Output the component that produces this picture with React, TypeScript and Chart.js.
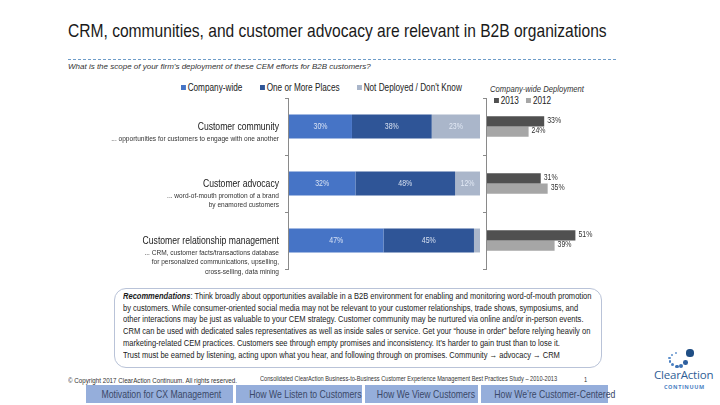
import React, { useEffect, useRef } from "react";
import { Chart, registerables } from "chart.js";

Chart.register(...registerables);

// ---------- DATA ----------
const categories = ["Customer community", "Customer advocacy", "Customer relationship management"];
const categoryNotes = [
  ["... opportunities for customers to engage with one another"],
  ["... word-of-mouth promotion of a brand", "by enamored customers"],
  ["... CRM, customer facts/transactions database", "for personalized communications, upselling,", "cross-selling, data mining"],
];
const scopeLabels = ["Company-wide", "One or More Places", "Not Deployed / Don't Know"];
const companyWide = [30, 32, 47];
const oneOrMorePlaces = [38, 48, 45];
const notDeployed = [23, 12, 3];
const yearLabels = ["2013", "2012"];
const companyWide2013 = [33, 31, 51];
const companyWide2012 = [24, 35, 39];

const scopeColors = ["#4674C6", "#2F5597", "#AAB6CA"];
const yearColors = ["#505050", "#A6A6A6"];

const FONT = "'Liberation Sans', Arial, sans-serif";
const SX = 0.82; // horizontal condensing to mimic Arial Narrow

const recLines = [
  "Think broadly about opportunities available in a B2B environment for enabling and monitoring word-of-mouth promotion",
  "by customers.  While consumer-oriented social media may not be relevant to your customer relationships, trade shows, symposiums, and",
  "other interactions may be just as valuable to your CEM strategy. Customer community may be nurtured via online and/or in-person events.",
  "CRM can be used with dedicated sales representatives as well as inside sales or service. Get your \u201Chouse in order\u201D before relying heavily on",
  "marketing-related CEM practices.  Customers see through empty promises and inconsistency.  It\u2019s harder to gain trust than to lose it.",
  "Trust must be earned by listening, acting upon what you hear, and following through on promises. Community \u2192 advocacy \u2192 CRM",
];
const tabs = ["Motivation for CX Management", "How We Listen to Customers", "How We View Customers", "How We\u2019re Customer-Centered"];

// ---------- helpers ----------
function bandEdges(chart: any) {
  const y = chart.scales.y;
  const { top, bottom } = chart.chartArea;
  const n = chart.data.labels.length;
  const edges = [top];
  for (let i = 0; i < n - 1; i++) {
    edges.push((y.getPixelForValue(i) + y.getPixelForValue(i + 1)) / 2);
  }
  edges.push(bottom);
  return edges;
}

function squeezeText(ctx: CanvasRenderingContext2D, text: string, x: number, y: number, sx: number) {
  ctx.save();
  ctx.translate(x, y);
  ctx.scale(sx, 1);
  ctx.fillText(text, 0, 0);
  ctx.restore();
}

const axisPlugin = {
  id: "catAxis",
  afterDatasetsDraw(chart: any) {
    const ctx = chart.ctx;
    const { left, top, bottom } = chart.chartArea;
    ctx.save();
    ctx.strokeStyle = "#8A8A8A";
    ctx.lineWidth = 1;
    ctx.beginPath();
    ctx.moveTo(Math.round(left) - 0.5, top);
    ctx.lineTo(Math.round(left) - 0.5, bottom);
    for (const e of bandEdges(chart)) {
      ctx.moveTo(Math.round(left) - 4, Math.round(e) + 0.5);
      ctx.lineTo(Math.round(left), Math.round(e) + 0.5);
    }
    ctx.stroke();
    ctx.restore();
  },
};

const leftLabelsPlugin = {
  id: "leftLabels",
  afterDraw(chart: any) {
    const ctx = chart.ctx;
    const y = chart.scales.y;
    const x = chart.chartArea.left - 10;
    ctx.save();
    ctx.textAlign = "right";
    ctx.textBaseline = "middle";
    categories.forEach((c, i) => {
      const cy = y.getPixelForValue(i);
      ctx.fillStyle = "#1a1a1a";
      ctx.font = `10.5px ${FONT}`;
      squeezeText(ctx, c, x, cy + 0.5, SX);
      ctx.fillStyle = "#333333";
      ctx.font = `8px ${FONT}`;
      categoryNotes[i].forEach((line, j) => {
        squeezeText(ctx, line, x, cy + 12 + j * 9.5, SX);
      });
    });
    ctx.restore();
  },
};

const stackLabelsPlugin = {
  id: "stackLabels",
  afterDatasetsDraw(chart: any) {
    const ctx = chart.ctx;
    ctx.save();
    ctx.font = `8.5px ${FONT}`;
    ctx.textAlign = "center";
    ctx.textBaseline = "middle";
    ctx.fillStyle = "rgba(232,238,250,0.9)";
    chart.data.datasets.forEach((ds: any, di: number) => {
      const meta = chart.getDatasetMeta(di);
      meta.data.forEach((el: any, i: number) => {
        const raw = ds.rawValues[i];
        if (raw < 5) return;
        squeezeText(ctx, raw + "%", (el.x + el.base) / 2, el.y + 0.5, SX);
      });
    });
    ctx.restore();
  },
};

const endLabelsPlugin = {
  id: "endLabels",
  afterDatasetsDraw(chart: any) {
    const ctx = chart.ctx;
    ctx.save();
    ctx.font = `8.5px ${FONT}`;
    ctx.textAlign = "left";
    ctx.textBaseline = "middle";
    ctx.fillStyle = "#333333";
    chart.data.datasets.forEach((ds: any, di: number) => {
      const meta = chart.getDatasetMeta(di);
      meta.data.forEach((el: any, i: number) => {
        squeezeText(ctx, ds.data[i] + "%", el.x + 3, el.y - 1, SX);
      });
    });
    ctx.restore();
  },
};

function ScopeChart() {
  const ref = useRef<HTMLCanvasElement>(null);
  useEffect(() => {
    const totals = companyWide.map((v, i) => v + oneOrMorePlaces[i] + notDeployed[i]);
    const series = [companyWide, oneOrMorePlaces, notDeployed];
    const chart = new Chart(ref.current as HTMLCanvasElement, {
      type: "bar",
      data: {
        labels: categories,
        datasets: series.map((s, k) => ({
          label: scopeLabels[k],
          data: s.map((v, i) => (v / totals[i]) * 100),
          rawValues: s,
          backgroundColor: scopeColors[k],
          borderWidth: 0,
          barPercentage: 0.42,
          categoryPercentage: 1,
        })) as any,
      },
      options: {
        indexAxis: "y",
        responsive: false,
        animation: false,
        layout: { padding: { left: 289, right: 10, top: 8, bottom: 11 } },
        plugins: { legend: { display: false }, tooltip: { enabled: false } },
        scales: {
          x: { stacked: true, min: 0, max: 100, display: false },
          y: { stacked: true, display: false },
        },
      },
      plugins: [axisPlugin, leftLabelsPlugin, stackLabelsPlugin],
    });
    return () => chart.destroy();
  }, []);
  return <canvas ref={ref} width={490} height={190} style={{ position: "absolute", left: 0, top: 90 }} />;
}

function YearChart() {
  const ref = useRef<HTMLCanvasElement>(null);
  useEffect(() => {
    const series = [companyWide2013, companyWide2012];
    const chart = new Chart(ref.current as HTMLCanvasElement, {
      type: "bar",
      data: {
        labels: categories,
        datasets: series.map((s, k) => ({
          label: yearLabels[k],
          data: s,
          backgroundColor: yearColors[k],
          borderWidth: 0,
          barPercentage: 1,
          categoryPercentage: 0.36,
        })),
      },
      options: {
        indexAxis: "y",
        responsive: false,
        animation: false,
        layout: { padding: { left: 7, right: 29, top: 8, bottom: 11 } },
        plugins: { legend: { display: false }, tooltip: { enabled: false } },
        scales: {
          x: { min: 0, max: 60, display: false },
          y: { display: false },
        },
      },
      plugins: [axisPlugin, endLabelsPlugin],
    });
    return () => chart.destroy();
  }, []);
  return <canvas ref={ref} width={140} height={190} style={{ position: "absolute", left: 480, top: 90 }} />;
}

function T({
  x,
  y,
  size,
  sx = SX,
  style = {},
  children,
}: {
  x: number;
  y: number;
  size: number;
  sx?: number;
  style?: React.CSSProperties;
  children: React.ReactNode;
}) {
  return (
    <div
      style={{
        position: "absolute",
        left: x,
        top: y,
        whiteSpace: "nowrap",
        fontFamily: FONT,
        fontSize: size,
        lineHeight: 1,
        transform: `scaleX(${sx})`,
        transformOrigin: "0 0",
        ...style,
      }}
    >
      {children}
    </div>
  );
}

function Swatch({ color, size = 5 }: { color: string; size?: number }) {
  return (
    <span
      style={{
        display: "inline-block",
        width: size / SX,
        height: size,
        background: color,
        marginRight: 2,
        verticalAlign: "middle",
        position: "relative",
        top: -1,
      }}
    />
  );
}

const logoDots: [number, number, number, string][] = [
  [672, 354.5, 1.0, "#5C8FCB"],
  [669.5, 358, 1.2, "#5C8FCB"],
  [670, 361.8, 1.4, "#4A80C2"],
  [672.8, 364.8, 1.6, "#4A80C2"],
  [676.8, 366.3, 1.8, "#3B71B4"],
  [681.3, 365.5, 2.0, "#3B71B4"],
  [685.3, 362.5, 2.3, "#2E5F9E"],
  [676, 353, 0.9, "#6C9AD2"],
  [690, 353, 3.6, "#1F4E84"],
];

export default function App() {
  const tabLefts = [86, 236, 365, 481];
  const tabWidths = [147, 126, 113, 127];
  return (
    <div style={{ position: "absolute", left: 0, top: 0, width: 720, height: 405, background: "#fff", overflow: "hidden" }}>
      <T x={68} y={21} size={19} style={{ color: "#1a1a1a" }}>
        CRM, communities, and customer advocacy are relevant in B2B organizations
      </T>
      <div style={{ position: "absolute", left: 68, top: 59, width: 548, borderTop: "1px dashed #6E9CC8" }} />
      <T x={68} y={63} size={8} sx={1} style={{ fontStyle: "italic", color: "#333" }}>
        What is the scope of your firm’s deployment of these CEM efforts for B2B customers?
      </T>

      {/* left legend */}
      {[181, 260, 357].map((lx, k) => (
        <T key={k} x={lx} y={83} size={10} style={{ color: "#222" }}>
          <Swatch color={scopeColors[k]} />
          {scopeLabels[k]}
        </T>
      ))}

      {/* right legend */}
      <T x={490} y={85} size={8.5} sx={0.9} style={{ fontStyle: "italic", color: "#333" }}>
        Company-wide Deployment
      </T>
      <T x={494} y={96} size={10} style={{ color: "#222" }}>
        <Swatch color={yearColors[0]} />
        {yearLabels[0]}
        <span style={{ display: "inline-block", width: 9 }} />
        <Swatch color={yearColors[1]} />
        {yearLabels[1]}
      </T>

      <ScopeChart />
      <YearChart />

      {/* recommendations */}
      <div
        style={{
          position: "absolute",
          left: 114,
          top: 288,
          width: 488,
          height: 80,
          border: "1px solid #B9C3D8",
          borderRadius: 12,
          boxSizing: "border-box",
        }}
      />
      <T x={123} y={291} size={9.2} style={{ color: "#1a1a1a", lineHeight: "11.7px" }}>
        <b>
          <i>Recommendations</i>
        </b>
        : {recLines[0]}
        {recLines.slice(1).map((l, i) => (
          <div key={i}>{l}</div>
        ))}
      </T>

      {/* footer */}
      <T x={68} y={377} size={7.6} style={{ color: "#333" }}>
        © Copyright 2017 ClearAction Continuum. All rights reserved.
      </T>
      <T x={260} y={376} size={6.9} style={{ color: "#333" }}>
        Consolidated ClearAction Business-to-Business Customer Experience Management Best Practices Study – 2010-2013
      </T>
      <T x={584} y={376} size={7} style={{ color: "#333" }}>
        1
      </T>
      {tabs.map((t, i) => (
        <div
          key={i}
          style={{
            position: "absolute",
            left: tabLefts[i],
            top: 385,
            width: tabWidths[i],
            height: 18,
            background: "#95AEDB",
          }}
        >
          <div
            style={{
              position: "absolute",
              left: 0,
              top: 0,
              width: tabWidths[i],
              color: "#3A4868",
              fontFamily: FONT,
              fontSize: 11,
              lineHeight: "18px",
              textAlign: "center",
              whiteSpace: "nowrap",
              transform: "scaleX(0.79)",
              transformOrigin: "50% 0",
            }}
          >
            {t}
          </div>
        </div>
      ))}

      {/* logo */}
      {logoDots.map(([x, y, r, c], i) => (
        <div
          key={i}
          style={{ position: "absolute", left: x - r, top: y - r, width: 2 * r, height: 2 * r, borderRadius: "50%", background: c }}
        />
      ))}
      <T
        x={654}
        y={369}
        size={11.5}
        sx={1}
        style={{ color: "#2F5E95", fontFamily: "'Open Sans', 'Liberation Sans', sans-serif", letterSpacing: -0.2 }}
      >
        ClearAction
      </T>
      <T
        x={664}
        y={385}
        size={5.5}
        sx={1}
        style={{ color: "#4A80C2", fontWeight: "bold", letterSpacing: 0.6, fontFamily: "'Open Sans', 'Liberation Sans', sans-serif" }}
      >
        CONTINUUM
      </T>
    </div>
  );
}
